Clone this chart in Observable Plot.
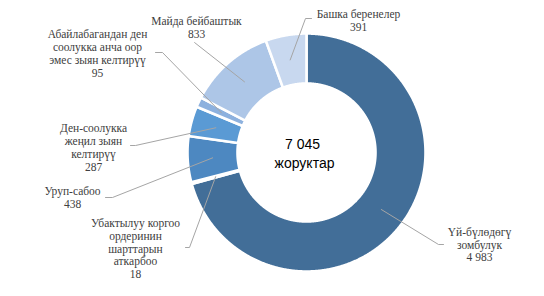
<!DOCTYPE html>
<html>
<head>
<meta charset="utf-8">
<script src="https://cdn.jsdelivr.net/npm/d3@7"></script>
<script src="https://cdn.jsdelivr.net/npm/@observablehq/plot@0.6"></script>
<style>
  html, body { margin: 0; padding: 0; background: #fff; }
  #chart { width: 544px; height: 296px; }
</style>
</head>
<body>
<div id="chart"></div>
<script>
// ---- data ----
const categories = [
  "Үй-бүлөдөгү\nзомбулук",
  "Убактылуу коргоо\nордеринин\nшарттарын\nаткарбоо",
  "Уруп-сабоо",
  "Ден-соолукка\nжеңил зыян\nкелтирүү",
  "Абайлабагандан ден\nсоолукка анча оор\nэмес зыян келтирүү",
  "Майда бейбаштык",
  "Башка беренелер"
];
const values = [4983, 18, 438, 287, 95, 833, 391];
const centerLabel = "жоруктар";

// ---- styles / layout ----
const colors = ["#426e98", "#426e98", "#4d88c1", "#5a9ad4", "#8db1de", "#adc6e7", "#c8d8ef"];
const W = 544, H = 296, CX = 306, CY = 152, R = 119; // pixels
const innerFrac = 69 / 119, midFrac = 94 / 119;
// label block centres & leader elbow/end points (pixels)
const labelLayout = [
  {lx: 479, ly: 244, elbow: [438, 244], end: [443, 244]},
  {lx: 135, ly: 248, elbow: [189, 247], end: [185, 247]},
  {lx: 72,  ly: 197, elbow: [112, 197], end: [105, 197]},
  {lx: 93,  ly: 147, elbow: [135, 145], end: [130, 145]},
  {lx: 97,  ly: 53,  elbow: [162, 52],  end: [155, 52]},
  {lx: 196, ly: 27,  elbow: [194, 42],  end: [194, 42]},
  {lx: 358, ly: 20,  elbow: [305, 18],  end: [311, 18]}
];
const px = p => (p - CX) / R;
const py = p => (CY - p) / R;

const fmt = d3.formatLocale({decimal: ",", thousands: " ", grouping: [3], currency: ["", ""]}).format(",d");

const data = categories.map((c, i) => ({name: c, value: values[i], idx: i}));
const arcs = d3.pie().sort(null).value(d => d.value).startAngle(0).endAngle(2 * Math.PI)(data);

// slice outlines
const pts = [];
for (const a of arcs) {
  const n = Math.max(2, Math.ceil((a.endAngle - a.startAngle) / 0.005));
  const ring = [];
  for (let k = 0; k <= n; k++) {
    const t = a.startAngle + (a.endAngle - a.startAngle) * k / n;
    ring.push([Math.sin(t), Math.cos(t)]);
  }
  for (let k = n; k >= 0; k--) {
    const t = a.startAngle + (a.endAngle - a.startAngle) * k / n;
    ring.push([innerFrac * Math.sin(t), innerFrac * Math.cos(t)]);
  }
  ring.push(ring[0]);
  ring.forEach(([x, y]) => pts.push({x, y, name: a.data.name}));
}

// leader lines
const leaders = [];
arcs.forEach((a, i) => {
  const m = (a.startAngle + a.endAngle) / 2;
  const L = labelLayout[i];
  leaders.push({x: midFrac * Math.sin(m), y: midFrac * Math.cos(m), k: i});
  leaders.push({x: px(L.elbow[0]), y: py(L.elbow[1]), k: i});
  leaders.push({x: px(L.end[0]), y: py(L.end[1]), k: i});
});

const labels = data.map((d, i) => ({
  text: d.name + "\n" + fmt(d.value),
  x: px(labelLayout[i].lx), y: py(labelLayout[i].ly)
}));

const total = d3.sum(values);

const chart = Plot.plot({
  width: W, height: H,
  margin: 0,
  x: {domain: [px(0), px(W)], range: [0, W], axis: null},
  y: {domain: [py(H), py(0)], range: [H, 0], axis: null},
  color: {domain: categories, range: colors},
  style: {background: "#fff", overflow: "visible"},
  marks: [
    Plot.line(pts, {x: "x", y: "y", z: "name", fill: "name", stroke: "#fff", strokeWidth: 2.6, curve: "linear"}),
    Plot.line(leaders, {x: "x", y: "y", z: "k", stroke: "#a5a5a5", strokeWidth: 1}),
    Plot.text(labels, {x: "x", y: "y", text: "text", fontFamily: "Liberation Serif", fontSize: 11.5, lineHeight: 1.11, fill: "#404040", textAnchor: "middle", lineAnchor: "middle"}),
    Plot.text([fmt(total)], {x: px(302), y: py(144), text: d => d, fontFamily: "Liberation Sans", fontSize: 14, fill: "#000", textAnchor: "middle"}),
    Plot.text([centerLabel], {x: px(304), y: py(163), text: d => d, fontFamily: "Liberation Sans", fontSize: 14, fill: "#000", textAnchor: "middle"})
  ]
});
// enforce font families on the text marks
const textGroups = chart.querySelectorAll('g[aria-label="text"]');
textGroups.forEach((g, i) => {
  const fam = i === 0 ? '"Liberation Serif", serif' : '"Liberation Sans", sans-serif';
  g.style.fontFamily = fam;
  g.querySelectorAll("text, tspan").forEach(t => t.style.fontFamily = fam);
});
document.getElementById("chart").appendChild(chart);
</script>
</body>
</html>
